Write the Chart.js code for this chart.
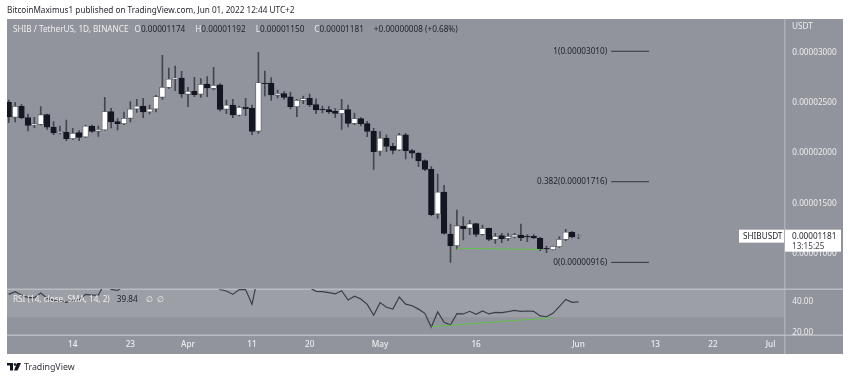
<!DOCTYPE html>
<html>
<head>
<meta charset="utf-8">
<title>SHIBUSDT</title>
<script src="https://cdn.jsdelivr.net/npm/chart.js@4"></script>
<style>
html, body { margin: 0; padding: 0; background: #fff; }
canvas { display: block; }
</style>
</head>
<body>
<canvas id="myChart" width="850" height="380"></canvas>
<script>
// prices are in units of 0.00001 USDT, candle 0 is Mar 4 2022, one candle per day
var opens = [2.507,2.355,2.464,2.351,2.279,2.285,2.381,2.259,2.203,2.209,2.143,2.203,2.160,2.269,2.216,2.229,2.411,2.312,2.292,2.345,
  2.437,2.467,2.408,2.437,2.553,2.652,2.732,2.745,2.583,2.613,2.583,2.685,2.642,2.676,2.434,2.477,2.375,2.457,2.444,2.216,
  2.695,2.695,2.573,2.590,2.557,2.461,2.523,2.543,2.480,2.437,2.431,2.414,2.391,2.431,2.295,2.342,2.292,2.216,2.018,2.150,
  2.067,2.031,2.180,2.024,2.001,1.925,1.839,1.396,1.614,1.197,1.082,1.274,1.254,1.300,1.194,1.254,1.144,1.181,1.154,1.168,
  1.187,1.174,1.178,1.158,1.055,1.042,1.072,1.144,1.214,1.174];
var closes = [2.358,2.464,2.348,2.275,2.292,2.381,2.256,2.199,2.213,2.143,2.196,2.156,2.269,2.216,2.236,2.411,2.309,2.292,2.345,2.437,
  2.467,2.408,2.437,2.560,2.652,2.735,2.745,2.586,2.613,2.580,2.682,2.646,2.672,2.434,2.477,2.378,2.454,2.441,2.216,2.699,
  2.689,2.576,2.593,2.553,2.461,2.523,2.540,2.477,2.428,2.431,2.408,2.394,2.431,2.295,2.342,2.289,2.216,2.014,2.150,2.067,
  2.027,2.180,2.024,1.998,1.922,1.839,1.389,1.614,1.204,1.082,1.280,1.250,1.300,1.194,1.254,1.144,1.174,1.151,1.174,1.191,
  1.158,1.168,1.158,1.049,1.049,1.075,1.144,1.217,1.168,1.181];
var highs = [2.527,2.500,2.484,2.388,2.355,2.461,2.388,2.312,2.269,2.328,2.246,2.223,2.275,2.279,2.269,2.553,2.444,2.342,2.408,2.510,
  2.533,2.543,2.477,2.573,2.970,2.844,2.864,2.811,2.652,2.752,2.738,2.758,2.851,2.689,2.527,2.533,2.467,2.543,2.477,3.000,
  2.814,2.748,2.626,2.609,2.606,2.533,2.566,2.586,2.537,2.467,2.464,2.441,2.533,2.477,2.398,2.351,2.315,2.246,2.213,2.180,
  2.097,2.196,2.196,2.037,2.004,1.932,1.865,1.793,1.680,1.297,1.436,1.369,1.333,1.303,1.287,1.257,1.204,1.204,1.204,1.204,
  1.297,1.191,1.191,1.164,1.078,1.078,1.171,1.244,1.224,1.192];
var lows = [2.302,2.309,2.342,2.219,2.252,2.279,2.236,2.183,2.189,2.123,2.133,2.123,2.153,2.206,2.166,2.226,2.249,2.229,2.282,2.309,
  2.404,2.351,2.388,2.408,2.533,2.642,2.619,2.553,2.461,2.560,2.553,2.560,2.626,2.418,2.391,2.351,2.368,2.371,2.183,2.196,
  2.566,2.523,2.547,2.533,2.437,2.361,2.490,2.461,2.391,2.398,2.394,2.351,2.236,2.259,2.282,2.269,2.163,1.839,1.978,2.014,
  1.991,2.024,1.941,1.951,1.865,1.826,1.376,1.353,1.197,0.916,1.049,1.138,1.191,1.171,1.187,1.131,1.105,1.111,1.131,1.158,
  1.131,1.121,1.151,1.032,1.012,1.039,1.065,1.131,1.158,1.150];
var rsi = [44.7,46.5,44.3,42.6,42.6,45.6,42.2,40.9,40.5,39.6,40.9,41.3,44.7,44.3,44.3,52,47.9,47.3,50,53,
  54,53,54,57,60,63,63,57,58,57,60,58,58,47.8,46.9,44.7,47.8,47.8,38.3,58,
  56,53,53.5,52,51,52,51,49,46.7,46.5,45.8,45,47.1,41.1,43.5,41.7,38.3,31.2,39.4,36.4,
  35.3,43,38.4,37.4,35.2,32.5,23.5,33.4,26.7,25,32.3,32.1,33.8,31.9,34,32.1,33.1,32.9,33.6,34.4,
  33.8,34,33.8,30.8,30.3,32.5,36.8,41.5,39.6,39.84];

var tickDays = [10,19,28,38,47,58,73,89,101,110,119];
var tickLabels = ["14","23","Apr","11","20","May","16","Jun","13","22","Jul"];
var priceTicks = [3,2.5,2,1.5,1];
var rsiTicks = [40,20];

var fibLevels = [3.010,1.716,0.916];
var fibNames = ["1","0.382","0"];
var fibDays = [94.1,100];
var priceTrendDays = [70,83];
var priceTrend = [1.056,1.044];
var rsiTrendDays = [66,85];
var rsiTrend = [23.9,29.7];

var paneColor = "#92949d";
var bandColor = "#9d9fa7";
var ruleColor = "#b9bbc3";
var axisText = "#eceded";
var darkText = "#23252c";
var wickColor = "#44464f";
var green = "#62c24a";
var uiFont = "'Noto Sans', sans-serif";
var uiSize = 8.2;

function fmt(v){ return (v / 100000).toFixed(8); }
function points(xs, ys){ return xs.map(function(x, i){ return {x: x, y: ys[i]}; }); }
function text(ctx, s, x, y, color, size, align){
  ctx.font = (size || uiSize) + "px " + uiFont;
  ctx.fillStyle = color;
  ctx.textAlign = align || "left";
  ctx.textBaseline = "middle";
  ctx.fillText(s, x, y);
  return x + ctx.measureText(s).width;
}

var days = opens.map(function(o, i){ return i; });

var datasets = [
  {
    type: "bar", order: 3, grouped: false, xAxisID: "x", yAxisID: "price",
    data: days.map(function(i){ return {x: i, y: [lows[i], highs[i]]}; }),
    barThickness: 1, backgroundColor: wickColor
  },
  {
    type: "bar", order: 2, grouped: false, xAxisID: "x", yAxisID: "price",
    data: days.map(function(i){ return {x: i, y: [opens[i], closes[i]]}; }),
    barThickness: 5.6, borderWidth: 0.8, borderSkipped: false,
    backgroundColor: days.map(function(i){ return closes[i] >= opens[i] ? "#ffffff" : "#131722"; }),
    borderColor: days.map(function(i){ return closes[i] >= opens[i] ? "#5a5c65" : "#131722"; })
  },
  {
    type: "line", order: 1, xAxisID: "x", yAxisID: "rsi", clip: 0,
    data: points(days, rsi), borderColor: "#3c3e47", borderWidth: 1.2, pointRadius: 0, tension: 0
  },
  {
    type: "line", order: 0, xAxisID: "x", yAxisID: "price",
    data: points(priceTrendDays, priceTrend), borderColor: green, borderWidth: 1, pointRadius: 0
  },
  {
    type: "line", order: 0, xAxisID: "x", yAxisID: "rsi",
    data: points(rsiTrendDays, rsiTrend), borderColor: green, borderWidth: 1, pointRadius: 0
  }
];
fibLevels.forEach(function(level){
  datasets.push({
    type: "line", order: 0, xAxisID: "x", yAxisID: "price",
    data: points(fibDays, [level, level]), borderColor: "#33353d", borderWidth: 1, pointRadius: 0
  });
});

var panes = {
  id: "panes",
  beforeDraw: function(chart){
    var ctx = chart.ctx, a = chart.chartArea, x = chart.scales.x, r = chart.scales.rsi, p = chart.scales.price;
    var right = p.right;
    ctx.save();
    ctx.fillStyle = paneColor;
    ctx.fillRect(a.left, a.top, right - a.left, x.bottom - a.top);
    ctx.fillStyle = bandColor;
    ctx.fillRect(a.left, r.top, a.right - a.left, r.getPixelForValue(30) - r.top);
    ctx.fillStyle = ruleColor;
    ctx.fillRect(a.left, r.top - 0.5, right - a.left, 1.5);
    ctx.fillRect(a.left, r.bottom - 0.5, right - a.left, 1.5);
    ctx.fillRect(a.right, a.top, 1, x.bottom - a.top);
    ctx.restore();
  },
  afterDraw: function(chart){
    var ctx = chart.ctx, p = chart.scales.price, x = chart.scales.x;
    var last = closes.length - 1;
    ctx.save();
    text(ctx, "BitcoinMaximus1 published on TradingView.com, Jun 01, 2022 12:44 UTC+2", 7, 10.5, "#26282f");

    // legend row
    var lx = text(ctx, "SHIB / TetherUS, 1D, BINANCE", 13, 30, axisText) + 6;
    ["O", "H", "L", "C"].forEach(function(k, n){
      var v = [opens[last], highs[last], lows[last], closes[last]][n];
      lx = text(ctx, k, lx, 30, axisText);
      lx = text(ctx, fmt(v), lx, 30, darkText) + 10;
    });
    text(ctx, "+0.00000008 (+0.68%)", lx, 30, darkText);

    // RSI legend
    var rx = text(ctx, "RSI (14, close, SMA, 14, 2)", 13, 300, axisText) + 7;
    rx = text(ctx, "39.84", rx, 300, darkText) + 8;
    text(ctx, "\u2205", rx, 300, axisText);
    text(ctx, "\u2205", rx + 11, 300, axisText);

    // fib labels
    fibLevels.forEach(function(level, n){
      text(ctx, fibNames[n] + "(" + fmt(level) + ")", x.getPixelForValue(fibDays[0]) - 4, p.getPixelForValue(level), darkText, uiSize, "right");
    });

    text(ctx, "USDT", 792, 27, axisText);

    // last price tag
    var ty = p.getPixelForValue(closes[last]);
    ctx.fillStyle = "#ffffff";
    ctx.fillRect(739, ty - 6, 45, 13);
    ctx.fillRect(785, ty - 6, 56, 22);
    text(ctx, "SHIBUSDT", 743, ty + 0.5, darkText);
    text(ctx, fmt(closes[last]), 792, ty + 0.5, darkText);
    text(ctx, "13:15:25", 792, ty + 10.5, "#43454d");

    // footer logo
    ctx.fillStyle = "#131722";
    ctx.fillRect(7, 363, 6, 2.5);
    ctx.fillRect(10, 363, 3, 7.5);
    ctx.beginPath();
    ctx.arc(15, 364.5, 1.3, 0, Math.PI * 2);
    ctx.fill();
    ctx.beginPath();
    ctx.moveTo(17, 363);
    ctx.lineTo(21, 363);
    ctx.lineTo(17.5, 370.5);
    ctx.lineTo(14, 370.5);
    ctx.fill();
    text(ctx, "TradingView", 24, 367, "#33353d", 8.8);
    ctx.restore();
  }
};

new Chart(document.getElementById("myChart"), {
  data: { datasets: datasets },
  plugins: [panes],
  options: {
    responsive: false,
    animation: false,
    devicePixelRatio: 1,
    layout: { padding: { top: 19, left: 7, right: 7, bottom: 26 } },
    plugins: { legend: { display: false }, title: { display: false }, tooltip: { enabled: false } },
    scales: {
      x: {
        type: "linear", position: "bottom", offset: false, min: -0.27, max: 121.14,
        grid: { display: false, drawTicks: false }, border: { display: false },
        afterFit: function(s){ s.height = 19; },
        afterBuildTicks: function(s){ s.ticks = tickDays.map(function(d){ return {value: d}; }); },
        ticks: {
          autoSkip: false, maxRotation: 0, color: axisText, padding: 5,
          font: { family: uiFont, size: uiSize, weight: "500" },
          callback: function(v){ return tickLabels[tickDays.indexOf(v)]; }
        }
      },
      price: {
        type: "linear", position: "right", stack: "panes", stackWeight: 270, min: 0.652, max: 3.33,
        grid: { display: false, drawTicks: false }, border: { display: false },
        afterFit: function(s){ s.width = 58.7; },
        afterBuildTicks: function(s){ s.ticks = priceTicks.map(function(v){ return {value: v}; }); },
        ticks: { color: axisText, padding: 8, font: { family: uiFont, size: uiSize }, callback: function(v){ return fmt(v); } }
      },
      rsi: {
        type: "linear", position: "right", stack: "panes", stackWeight: 46, min: 18.52, max: 48.19,
        grid: { display: false, drawTicks: false }, border: { display: false },
        afterFit: function(s){ s.width = 58.7; },
        afterBuildTicks: function(s){ s.ticks = rsiTicks.map(function(v){ return {value: v}; }); },
        ticks: { color: axisText, padding: 8, font: { family: uiFont, size: uiSize }, callback: function(v){ return v.toFixed(2); } }
      }
    }
  }
});
</script>
</body>
</html>
